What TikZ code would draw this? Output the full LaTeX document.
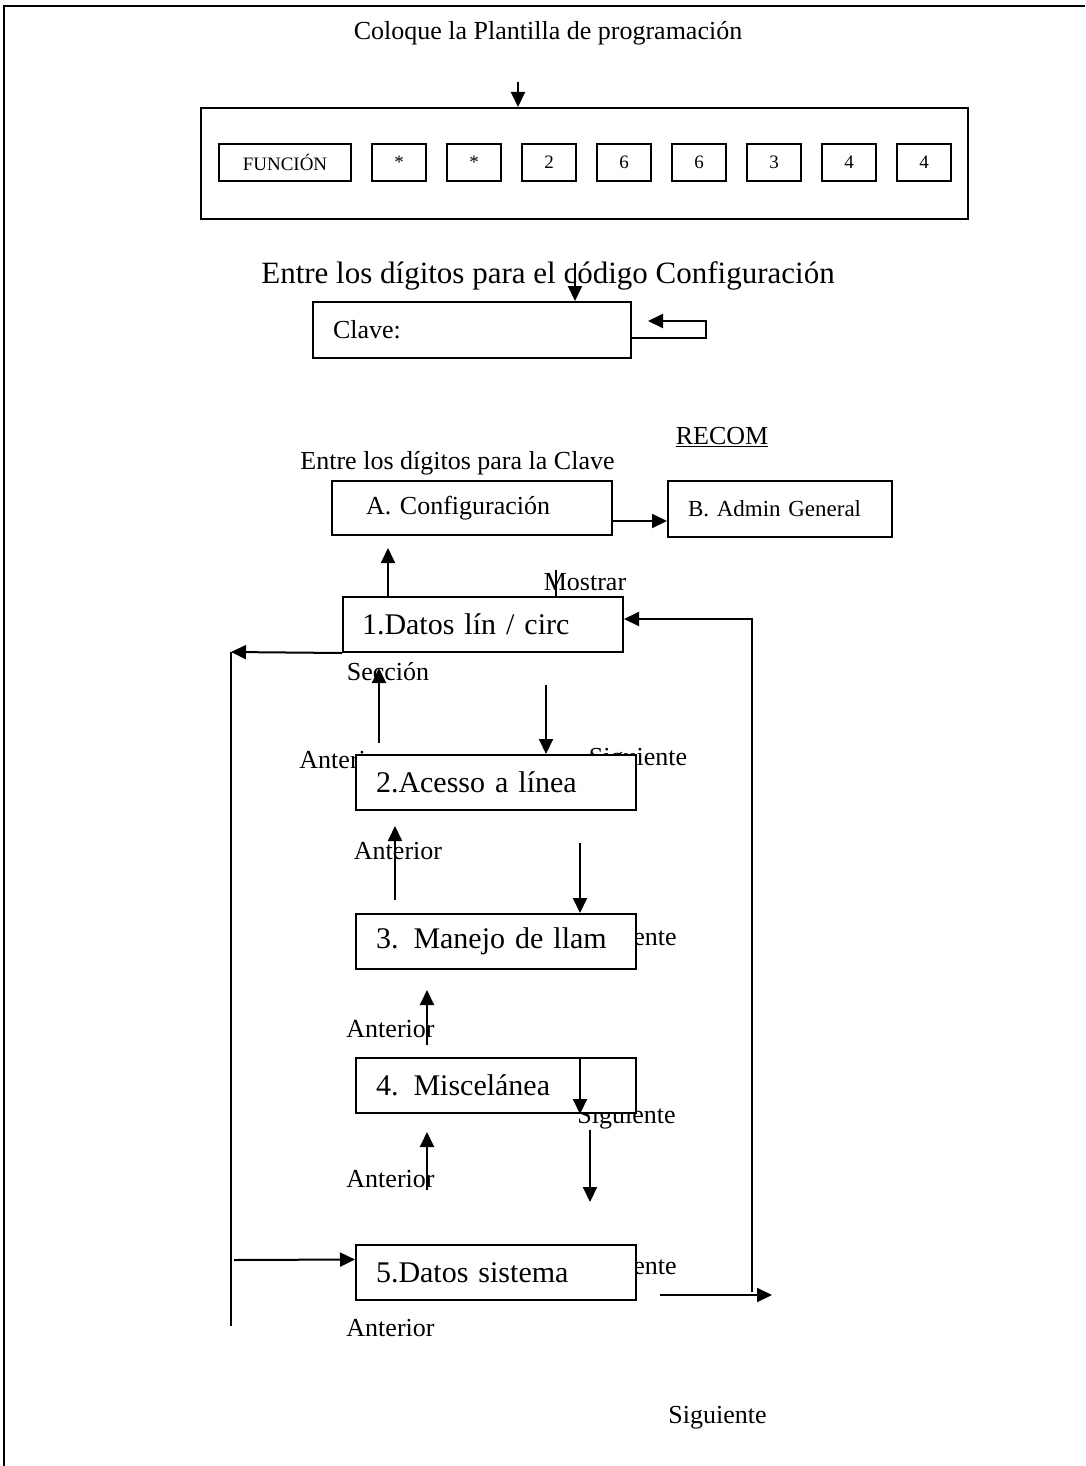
\documentclass[tikz,border=0pt]{standalone}
\usepackage{fontspec}
\setmainfont{Liberation Serif}
\usetikzlibrary{arrows.meta, positioning}

\begin{document}
\begin{tikzpicture}[x=1pt, y=-1pt, line width=2pt]
    % settings
    \tikzset{
      >={Triangle[length=15pt, width=14pt]},
      lbl/.style={font=\fontsize{26pt}{30pt}\selectfont, inner sep=0pt},
      big/.style={font=\fontsize{31pt}{36pt}\selectfont, inner sep=0pt},
      key/.style={draw, minimum width=54pt, minimum height=37pt, inner sep=0pt,
                  font=\fontsize{19pt}{22pt}\selectfont},
      menu/.style={draw, fill=white, minimum height=55pt, text width=240pt,
                   inner xsep=20pt, align=left, font=\fontsize{30pt}{34pt}\selectfont},
    }
    \useasboundingbox (0,0) rectangle (1085,1466);

    % frame
    \draw (4,1466) -- (4,6) -- (1085,6);

    % template
    \node[lbl] (title) at (548,33) {Coloque la Plantilla de programación};
    \node[draw, minimum width=767pt, minimum height=111pt] (panel) at (584.5,163.5) {};
    \node[key, minimum width=132pt] (k0) at (285,162.5) {FUNCIÓN};
    \node[key, right=19pt of k0] (k1) {*};
    \node[key, right=19pt of k1] (k2) {*};
    \node[key, right=19pt of k2] (k3) {2};
    \node[key, right=19pt of k3] (k4) {6};
    \node[key, right=19pt of k4] (k5) {6};
    \node[key, right=19pt of k5] (k6) {3};
    \node[key, right=19pt of k6] (k7) {4};
    \node[key, right=19pt of k7] (k8) {4};

    % password
    \node[big] (entry) at (548,276) {Entre los dígitos para el código Configuración};
    \node[menu, lbl, text width=278pt, inner xsep=20pt, minimum height=56pt] (clave) at (472,330) {Clave:};

    % labels
    \node[lbl] (recom) at (722,437) {\underline{RECOM}};
    \node[lbl] (entry2) at (457.5,463) {Entre los dígitos para la Clave};
    \node[lbl] (show) at (585,582) {Mostrar};
    \node[lbl] (sect) at (388,672) {Sección};
    \node[lbl] (prev1) at (343.5,760) {Anterior};
    \node[lbl] (next1) at (638,760) {Siguiente};
    \node[lbl] (prev2) at (398,851) {Anterior};
    \node[lbl] (next2) at (627.5,940) {Siguiente};
    \node[lbl] (prev3) at (390.5,1029) {Anterior};
    \node[lbl] (next3) at (626.5,1118) {Siguiente};
    \node[lbl] (prev4) at (390.5,1179) {Anterior};
    \node[lbl] (next4) at (627.5,1269) {Siguiente};
    \node[lbl] (prev5) at (390.5,1328) {Anterior};
    \node[lbl] (next5) at (717.5,1418) {Siguiente};

    % menus
    \node[menu, lbl, text width=212pt, inner xsep=34pt, minimum height=54pt] (cfgA) at (472,508) {A. Configuración};
    \node[menu, text width=184pt, minimum height=56pt, font=\fontsize{23pt}{27pt}\selectfont] (adminB) at (780,509) {B. Admin General};
    \node[menu, text width=242pt, inner xsep=19pt] (d1) at (483,624.5) {1.Datos lín / circ};
    \node[menu] (d2) at (496,782.5) {2.Acesso a línea};
    \node[menu] (d3) at (496,941.5) {3. Manejo de llam};
    \node[menu] (d4) at (496,1085.5) {4. Miscelánea};
    \node[menu] (d5) at (496,1272.5) {5.Datos sistema};

    % points
    \coordinate (t1) at (518,82);
    \coordinate (t2) at (575,263);
    \coordinate (r1) at (706,321);
    \coordinate (r2) at (648,321);
    \coordinate (u0) at (388,548);
    \coordinate (m1) at (556,570);
    \coordinate (lx) at (231,652);
    \coordinate (lb) at (231,1326);
    \coordinate (la) at (234,1260);
    \coordinate (rb) at (752,1292);
    \coordinate (ra) at (660,1295);
    \coordinate (rc) at (772,1295);
    \coordinate (u1a) at (379,743);  \coordinate (u1b) at (379,668);
    \coordinate (n1a) at (546,685);
    \coordinate (u2a) at (395,900);  \coordinate (u2b) at (395,826);
    \coordinate (n2a) at (580,843);
    \coordinate (u3a) at (427,1045); \coordinate (u3b) at (427,990);
    \coordinate (n3a) at (580,1059);
    \coordinate (u4a) at (427,1190); \coordinate (u4b) at (427,1132);
    \coordinate (n4a) at (590,1130); \coordinate (n4b) at (590,1202);

    % arrows
    \draw[->] (t1) -- (t1 |- panel.north);
    \draw[->] (t2) -- (t2 |- clave.north);
    \draw[->] ([yshift=-8pt]clave.east) -| (r1) -- (r2);
    \draw[->] ([yshift=-13pt]cfgA.east) -- ([yshift=-13pt]cfgA.east -| adminB.west);
    \draw[->] (u0 |- d1.north) -- (u0);
    \draw (m1) -- (m1 |- d1.north);
    \draw[->] (d1.south west) -- (lx);
    \draw (lx) -- (lb);
    \draw[->] (rb) |- ([yshift=5.5pt]d1.east);
    \draw[->] (ra) -- (rc);
    \draw[->] (la) -- ([yshift=13pt]d5.west);
    \draw[->] (u1a) -- (u1b);
    \draw[->] (n1a) -- (n1a |- d2.north);
    \draw[->] (u2a) -- (u2b);
    \draw[->] (n2a) -- (n2a |- d3.north);
    \draw[->] (u3a) -- (u3b);
    \draw[->] (n3a) -- (n3a |- d4.south);
    \draw[->] (u4a) -- (u4b);
    \draw[->] (n4a) -- (n4b);

\end{tikzpicture}
\end{document}
